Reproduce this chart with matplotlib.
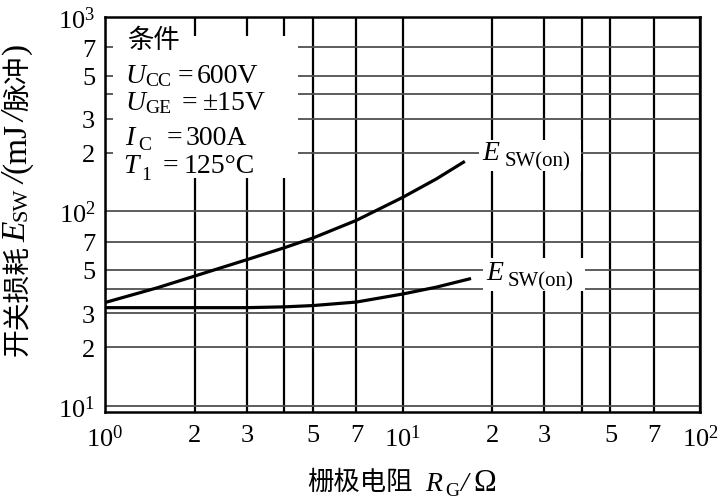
import matplotlib
matplotlib.use("Agg")
import matplotlib.pyplot as plt
from matplotlib.patches import Rectangle

# ---- data ----
rg_upper = [1, 1.5, 2, 3, 4, 5, 7, 10, 13, 16.2]
esw_upper = [34, 40.5, 46.5, 56.5, 65, 73, 90, 118, 147, 181]

rg_lower = [1, 2, 3, 4, 5, 7, 10, 13, 17]
esw_lower = [32, 32, 32, 32.3, 32.8, 34.2, 37.6, 40.8, 45.2]

x_major = [1, 2, 3, 5, 7, 10, 20, 30, 50, 70, 100]
x_major_labels = [r'$10^{0}$', '2', '3', '5', '7', r'$10^{1}$', '2', '3', '5', '7', r'$10^{2}$']
x_minor = [4, 40]
y_major = [10, 20, 30, 50, 70, 100, 200, 300, 500, 700, 1000]
y_major_labels = [r'$10^{1}$', '2', '3', '5', '7', r'$10^{2}$', '2', '3', '5', '7', r'$10^{3}$']
y_minor = [40, 400]

cond_title = '条件'
# (main symbol, subscript, "=", value)
cond_rows = [('U', 'CC', '=', '600V'),
             ('U', 'GE', '=', '±15V'),
             ('I', 'C', '=', '300A'),
             ('T', '1', '=', '125°C')]
curve_main, curve_sub = 'E', 'SW(on)'

CJK = ['Noto Sans CJK SC']
plt.rcParams['font.family'] = ['Liberation Serif', 'Noto Sans CJK SC', 'DejaVu Sans']
plt.rcParams['mathtext.fontset'] = 'custom'
plt.rcParams['mathtext.rm'] = 'Liberation Serif'
plt.rcParams['mathtext.it'] = 'Liberation Serif:italic'
plt.rcParams['mathtext.bf'] = 'Liberation Serif:bold'

W, H = 725, 502
fig = plt.figure(figsize=(W / 100, H / 100), dpi=100)
ax = fig.add_axes([105 / W, 1 - 413 / H, (700 - 105) / W, (413 - 18) / H])
ax.set_xscale('log')
ax.set_yscale('log')
ax.set_xlim(1, 100)
ax.set_ylim(9.3, 1000)

ax.set_xticks(x_major)
ax.set_xticklabels(x_major_labels)
ax.set_xticks(x_minor, minor=True)
ax.set_yticks(y_major)
ax.set_yticklabels(y_major_labels)
ax.set_yticks(y_minor, minor=True)
ax.tick_params(which='both', length=0)
ax.tick_params(axis='x', which='major', pad=9, labelsize=19)
ax.tick_params(axis='y', which='major', pad=7, labelsize=19)
ax.xaxis.set_minor_formatter(plt.NullFormatter())
ax.yaxis.set_minor_formatter(plt.NullFormatter())

ax.set_axisbelow(True)
ax.grid(axis='x', which='both', color='black', lw=1.6)
ax.grid(axis='y', which='both', color='#505050', lw=1.3)
for s in ax.spines.values():
    s.set_linewidth(1.8)
    s.set_zorder(5)


def px_rect(x0, y0, x1, y1):
    """white rectangle in figure pixel coords (y from top)"""
    ax.add_patch(Rectangle((x0 / W, 1 - y1 / H), (x1 - x0) / W, (y1 - y0) / H,
                           transform=fig.transFigure, facecolor='white',
                           edgecolor='none', zorder=1))


def put(x, y, s, size, style='normal', ha='left', va='baseline', rot=0, family=None):
    kw = {}
    if family is not None:
        kw['family'] = family
    return fig.text(x / W, 1 - y / H, s, fontsize=size, style=style, ha=ha, va=va,
                    rotation=rot, **kw)


# white area behind the conditions and the curve labels
px_rect(113, 37, 298, 179)
px_rect(479, 141, 581, 172)
px_rect(483, 259, 585, 292)

ax.plot(rg_upper, esw_upper, color='black', lw=2.3, zorder=3, solid_capstyle='butt')
ax.plot(rg_lower, esw_lower, color='black', lw=2.3, zorder=3, solid_capstyle='butt')

# curve labels
put(482, 160, curve_main, 20, 'italic')
put(505, 166, curve_sub, 15)
put(486, 280, curve_main, 20, 'italic')
put(508, 286, curve_sub, 15)

# conditions
put(127, 41, cond_title, 19, va='center', family=CJK)
row_pos = [  # main_x, base, sub_x, sub_base, eq_x, val_x
    (125, 83, 145, 86, 178, 197),
    (125, 110, 145, 113, 182, 203),
    (125, 145, 138, 150, 167, 186),
    (123, 173, 141, 180, 163, 184),
]
for (m, sub, eq, val), (mx, b, sx, sb, ex, vx) in zip(cond_rows, row_pos):
    put(mx, b, m, 20, 'italic')
    put(sx, sb, sub, 14)
    put(ex, b, eq, 20)
    put(vx, b, val, 20)

# x label: 栅极电阻 R_G/Ω
put(360, 482, '栅极电阻', 19, ha='center', va='center', family=CJK)
put(425, 491, 'R', 20, 'italic')
put(445, 496, 'G', 14)
put(460, 491, '/', 20, 'italic')
put(473, 491, 'Ω', 22)

# y label (rotated), stacked from bottom to top: 开关损耗E_SW/(mJ/脉冲)
ypieces = [  # text, size, style, x-center, family, gap before
    ('开关损耗', 20, 'normal', 18, CJK, 0),
    ('E', 24, 'italic', 17, None, 3),
    ('SW', 16, 'normal', 22, None, 1),
    ('/', 24, 'italic', 17, None, 3),
    ('(mJ', 24, 'normal', 17, None, 2),
    ('/', 24, 'italic', 17, None, 1),
    ('脉冲', 20, 'normal', 18, CJK, 2),
    (')', 24, 'normal', 17, None, 1),
]
renderer = fig.canvas.get_renderer()
cur = 356.0  # bottom end (pixels from top)
for s, size, style, xc, fam, gap in ypieces:
    cur -= gap
    t = put(xc, 0, s, size, style, ha='center', va='center', rot=90, family=fam)
    ext = t.get_window_extent(renderer)
    h = ext.height
    t.set_position((xc / W, 1 - (cur - h / 2) / H))
    cur -= h

fig.savefig('out.png', dpi=100)
